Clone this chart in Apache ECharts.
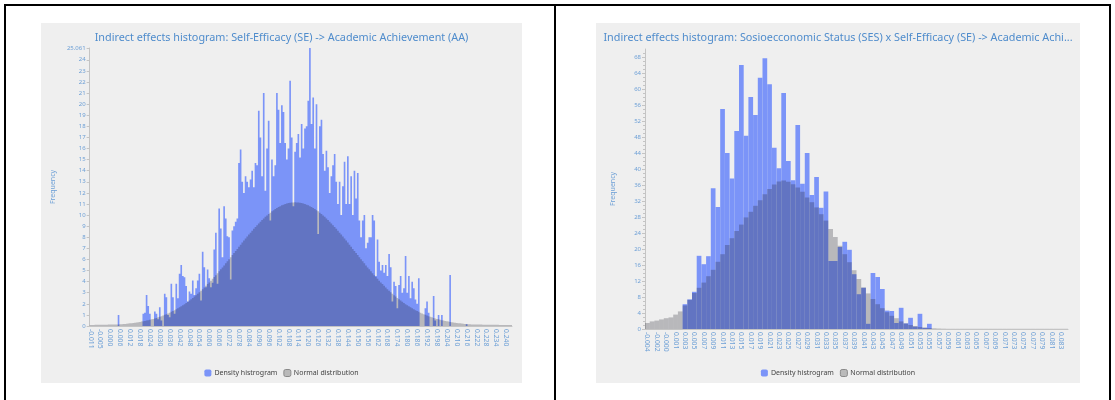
<!DOCTYPE html>
<html>
<head>
<meta charset="utf-8">
<script src="https://cdn.jsdelivr.net/npm/echarts@6/dist/echarts.min.js"></script>
<style>
  html, body { margin: 0; padding: 0; background: #fff; width: 1115px; height: 400px; overflow: hidden; }
  .frame { position: absolute; background: #000; }
  .panel { position: absolute; background: #efefef; }
</style>
</head>
<body>
<div class="frame" style="left:4px;top:4px;width:1107px;height:2px"></div>
<div class="frame" style="left:4px;top:4px;width:2px;height:396px"></div>
<div class="frame" style="left:554px;top:4px;width:2px;height:396px"></div>
<div class="frame" style="left:1109px;top:4px;width:2px;height:396px"></div>
<div id="left" class="panel" style="left:41px;top:23px;width:481px;height:360px"></div>
<div id="right" class="panel" style="left:596px;top:23px;width:484px;height:360px"></div>
<script>
// ---- left chart: SE -> AA (256 bins, label every 6th bin)
const titleL = 'Indirect effects histogram: Self-Efficacy (SE) -> Academic Achievement (AA)'
const xTicksL = ['-0.011', '-0.005', '0.000', '0.006', '0.012', '0.018', '0.024', '0.030', '0.036', '0.042',
  '0.048', '0.054', '0.060', '0.066', '0.072', '0.078', '0.084', '0.090', '0.096', '0.102', '0.108', '0.114',
  '0.120', '0.126', '0.132', '0.138', '0.144', '0.150', '0.156', '0.162', '0.168', '0.174', '0.180', '0.186',
  '0.192', '0.198', '0.204', '0.210', '0.216', '0.222', '0.228', '0.234', '0.240']
const yTicksL = [0, 1, 2, 3, 4, 5, 6, 7, 8, 9, 10, 11, 12, 13, 14, 15, 16, 17, 18, 19, 20, 21, 22, 23, 24, 25.061]
const densityL = [
  0, 0, 0, 0, 0, 0, 0, 0, 0, 0, 0, 0, 0, 0, 0, 0,
  0, 1.0, 0, 0, 0, 0, 0, 0, 0, 0, 0, 0, 0, 0, 0, 0,
  1.1, 1.2, 2.8, 1.8, 1.1, 0, 0, 1.3, 1.1, 0.6, 1.7, 0.5, 0, 2.9, 2.6, 1.0,
  0.8, 3.8, 2.6, 1.1, 3.8, 2.5, 4.7, 5.5, 4.5, 4.4, 3.6, 2.2, 3.1, 2.9, 4.1, 2.8,
  3.4, 4.1, 4.7, 2.3, 6.7, 5.3, 3.5, 5.1, 4.3, 3.5, 3.9, 6.9, 8.4, 3.8, 10.6, 8.8,
  6.2, 10.8, 9.7, 8.1, 8.0, 4.2, 8.6, 9.0, 9.4, 9.7, 14.7, 15.9, 13.0, 12.0, 13.5, 13.0,
  12.5, 13.2, 14.0, 12.5, 14.7, 14.5, 19.4, 17.0, 13.5, 21.0, 12.2, 16.0, 18.5, 9.5, 15.0, 13.5,
  14.5, 21.0, 19.5, 16.5, 19.9, 19.3, 16.5, 15.0, 16.0, 22.1, 17.0, 10.8, 15.7, 16.5, 17.3, 15.2,
  18.2, 16.0, 17.8, 18.0, 20.3, 25.061, 18.2, 20.6, 16.0, 20.0, 8.3, 18.0, 18.6, 15.5, 14.0, 15.8,
  14.3, 12.0, 13.5, 14.5, 15.5, 13.0, 11.0, 13.0, 10.0, 12.6, 14.8, 11.0, 15.3, 11.0, 13.5, 10.0,
  14.0, 11.5, 13.8, 9.5, 8.0, 9.5, 10.0, 7.0, 7.5, 8.0, 8.0, 10.0, 9.5, 4.5, 7.8, 5.8,
  5.0, 5.5, 4.8, 5.5, 4.5, 6.5, 5.3, 2.2, 4.0, 3.6, 1.6, 3.7, 4.5, 3.0, 3.4, 6.3,
  3.0, 4.5, 2.5, 4.0, 3.4, 2.4, 2.0, 4.3, 0, 0, 0, 1.6, 2.2, 1.2, 0, 0,
  2.7, 0.5, 0, 1.0, 0, 1.0, 0, 0, 0, 0, 4.6, 0, 0, 0, 0, 0,
  0, 0, 0, 0, 0.15, 0, 0, 0, 0, 0, 0, 0, 0, 0, 0, 0,
  0, 0, 0, 0, 0, 0, 0, 0, 0, 0, 0, 0, 0, 0, 0, 0
]
const normalL = [
  0.10, 0.10, 0.10, 0.11, 0.11, 0.11, 0.11, 0.12, 0.12, 0.12, 0.12, 0.13, 0.13, 0.13, 0.13, 0.14,
  0.14, 0.14, 0.15, 0.16, 0.17, 0.185, 0.20, 0.22, 0.24, 0.255, 0.27, 0.295, 0.32, 0.345, 0.37, 0.40,
  0.43, 0.46, 0.49, 0.525, 0.56, 0.60, 0.64, 0.685, 0.73, 0.78, 0.83, 0.885, 0.94, 1.005, 1.07, 1.135,
  1.20, 1.275, 1.35, 1.43, 1.51, 1.595, 1.68, 1.775, 1.87, 1.97, 2.07, 2.18, 2.29, 2.41, 2.53, 2.655,
  2.78, 2.91, 3.04, 3.18, 3.32, 3.47, 3.62, 3.775, 3.93, 4.09, 4.25, 4.415, 4.58, 4.755, 4.93, 5.105,
  5.28, 5.465, 5.65, 5.835, 6.02, 6.205, 6.39, 6.575, 6.76, 6.95, 7.14, 7.33, 7.52, 7.705, 7.89, 8.065,
  8.24, 8.415, 8.59, 8.76, 8.93, 9.09, 9.25, 9.405, 9.56, 9.70, 9.84, 9.97, 10.10, 10.22, 10.34, 10.445,
  10.55, 10.64, 10.73, 10.805, 10.88, 10.935, 10.99, 11.035, 11.08, 11.105, 11.13, 11.14, 11.15, 11.14, 11.13, 11.105,
  11.08, 11.035, 10.99, 10.935, 10.88, 10.805, 10.73, 10.64, 10.55, 10.445, 10.34, 10.22, 10.10, 9.97, 9.84, 9.70,
  9.56, 9.405, 9.25, 9.09, 8.93, 8.76, 8.59, 8.415, 8.24, 8.065, 7.89, 7.705, 7.52, 7.33, 7.14, 6.95,
  6.76, 6.575, 6.39, 6.205, 6.02, 5.835, 5.65, 5.465, 5.28, 5.105, 4.93, 4.755, 4.58, 4.415, 4.25, 4.09,
  3.93, 3.775, 3.62, 3.47, 3.32, 3.18, 3.04, 2.91, 2.78, 2.655, 2.53, 2.41, 2.29, 2.18, 2.07, 1.97,
  1.87, 1.775, 1.68, 1.595, 1.51, 1.43, 1.35, 1.275, 1.20, 1.135, 1.07, 1.005, 0.94, 0.885, 0.83, 0.78,
  0.73, 0.685, 0.64, 0.60, 0.56, 0.525, 0.49, 0.46, 0.43, 0.40, 0.37, 0.345, 0.32, 0.295, 0.27, 0.255,
  0.24, 0.22, 0.20, 0.185, 0.17, 0.16, 0.15, 0.14, 0.14, 0.14, 0.13, 0.13, 0.13, 0.13, 0.12, 0.12,
  0.12, 0.12, 0.12, 0.11, 0.11, 0.11, 0.11, 0.11, 0.10, 0.10, 0.10, 0.10, 0.10, 0.10, 0.10, 0.10
]

// ---- right chart: SES x SE -> AA (90 bins, label every 2nd bin)
const titleR = 'Indirect effects histogram: Sosioecconomic Status (SES) x Self-Efficacy (SE) -> Academic Achievement (AA)'
const xTicksR = ['-0.004', '-0.002', '-0.000', '0.001', '0.003', '0.005', '0.007', '0.009', '0.011', '0.013',
  '0.015', '0.017', '0.019', '0.021', '0.023', '0.025', '0.027', '0.029', '0.031', '0.033', '0.035', '0.037',
  '0.039', '0.041', '0.043', '0.045', '0.047', '0.049', '0.051', '0.053', '0.055', '0.057', '0.059', '0.061',
  '0.063', '0.065', '0.067', '0.069', '0.071', '0.073', '0.075', '0.077', '0.079', '0.081', '0.083']
const yTicksR = [0, 4, 8, 12, 16, 20, 24, 28, 32, 36, 40, 44, 48, 52, 56, 60, 64, 68]
const densityR = [
  0, 0, 0, 0, 0, 0, 0, 0, 6.2, 7.4, 9.3, 18.3, 16.2, 18.2, 35.2, 30.5,
  55.0, 44.0, 37.6, 49.5, 66.0, 48.3, 58.0, 53.5, 62.8, 67.7, 61.2, 45.3, 40.2, 59.0, 42.0, 37.2,
  51.0, 36.3, 44.0, 33.5, 38.0, 30.3, 34.4, 17.0, 17.0, 20.5, 21.8, 19.8, 13.7, 8.7, 10.3, 1.3,
  14.0, 13.0, 10.0, 4.6, 4.5, 1.5, 5.3, 1.4, 2.8, 0.6, 3.8, 0.3, 1.3, 0, 0, 0,
  0, 0, 0, 0, 0, 0, 0, 0, 0, 0, 0, 0, 0, 0, 0, 0,
  0, 0, 0, 0, 0, 0, 0, 0, 0, 0
]
const normalR = [
  1.5, 1.9, 2.1, 2.4, 2.7, 2.9, 3.6, 4.4, 5.9, 7.3, 9.0, 10.3, 11.6, 13.2, 14.8, 16.8,
  18.7, 21.0, 22.7, 24.5, 26.1, 27.9, 29.3, 30.8, 32.2, 33.7, 35.0, 36.1, 36.9, 37.1, 36.8, 36.2,
  35.4, 34.3, 32.9, 31.7, 30.4, 28.7, 27.1, 25.0, 23.0, 20.8, 18.7, 16.7, 14.7, 12.5, 10.4, 8.9,
  7.5, 6.2, 5.2, 4.2, 3.3, 2.7, 1.9, 1.4, 1.0, 0.75, 0.5, 0.35, 0.25, 0.18, 0.12, 0.08,
  0.05, 0.05, 0.05, 0.05, 0.05, 0.05, 0.05, 0.05, 0.05, 0.05, 0.05, 0.05, 0.05, 0.05, 0.05, 0.05,
  0.05, 0.05, 0.05, 0.05, 0.05, 0.05, 0.05, 0.05, 0.05, 0.05
]

const FONT = 'Noto Sans'
const TITLE_COLOR = '#4f8ccc'
const LABEL_COLOR = '#6c9fd6'
const AXIS_COLOR = '#c4c4c4'
const BLUE = '#7b94f8'
const SHADE = 'rgba(28,28,40,0.26)'

function histOption(o) {
  const cats = o.density.map((_, i) => String(i))
  return {
    animation: false,
    title: {
      text: o.title, left: 'center', top: 4,
      textStyle: { color: TITLE_COLOR, fontSize: 10.8, fontWeight: 'normal', fontFamily: FONT,
        width: 476, overflow: 'truncate', ellipsis: '...' },
    },
    legend: {
      bottom: 1, itemWidth: 7, itemHeight: 7, itemGap: 6,
      textStyle: { fontSize: 7, color: '#444', fontFamily: FONT, padding: [0, 0, 0, -2] },
      data: [
        { name: 'Density histrogram', itemStyle: { color: BLUE } },
        { name: 'Normal distribution', itemStyle: { color: '#bababa', borderColor: '#8a8a8a', borderWidth: 1 } },
      ],
    },
    grid: o.grid,
    xAxis: {
      type: 'category', data: cats,
      axisLine: { lineStyle: { color: AXIS_COLOR } },
      axisTick: { interval: o.step - 1, alignWithLabel: true, length: 3, lineStyle: { color: AXIS_COLOR } },
      axisLabel: {
        interval: o.step - 1, rotate: -90, fontSize: 6.8, margin: 3, color: LABEL_COLOR, fontFamily: FONT,
        formatter: (v, i) => o.ticks[Math.round(i / o.step)] ?? '',
      },
      splitLine: { show: false },
    },
    yAxis: {
      type: 'value', min: 0, max: o.yMax, interval: o.yStep,
      name: 'Frequency', nameLocation: 'middle', nameGap: o.nameGap,
      nameTextStyle: { color: LABEL_COLOR, fontSize: 7, fontFamily: FONT },
      axisLine: { show: true, lineStyle: { color: AXIS_COLOR } },
      axisTick: { show: true, length: 3, customValues: o.yTicks, lineStyle: { color: AXIS_COLOR } },
      minorTick: { show: o.minor, splitNumber: 4, length: 2, lineStyle: { color: AXIS_COLOR } },
      axisLabel: { customValues: o.yTicks, fontSize: 6, margin: 4, color: LABEL_COLOR, fontFamily: FONT },
      splitLine: { show: false },
    },
    series: [
      { name: 'Density histrogram', type: 'bar', data: o.density, barCategoryGap: '0%',
        large: o.large, largeThreshold: 100, itemStyle: { color: BLUE }, z: 2 },
      { name: 'Normal distribution', type: 'bar', data: o.normal, barGap: '-100%', barCategoryGap: '0%',
        large: o.large, largeThreshold: 100, itemStyle: { color: SHADE }, z: 3 },
    ],
  }
}

const left = echarts.init(document.getElementById('left'))
left.setOption(histOption({
  title: titleL, density: densityL, normal: normalL, ticks: xTicksL, step: 6,
  yMax: 25.061, yStep: 1, yTicks: yTicksL, minor: false, nameGap: 24, large: true,
  grid: { left: 47, right: 10, top: 25, bottom: 57 },
}))

const right = echarts.init(document.getElementById('right'))
right.setOption(histOption({
  title: titleR, density: densityR, normal: normalR, ticks: xTicksR, step: 2,
  yMax: 70, yStep: 4, yTicks: yTicksR, minor: true, nameGap: 29, large: false,
  grid: { left: 49, right: 12, top: 26, bottom: 54 },
}))
</script>
</body>
</html>
